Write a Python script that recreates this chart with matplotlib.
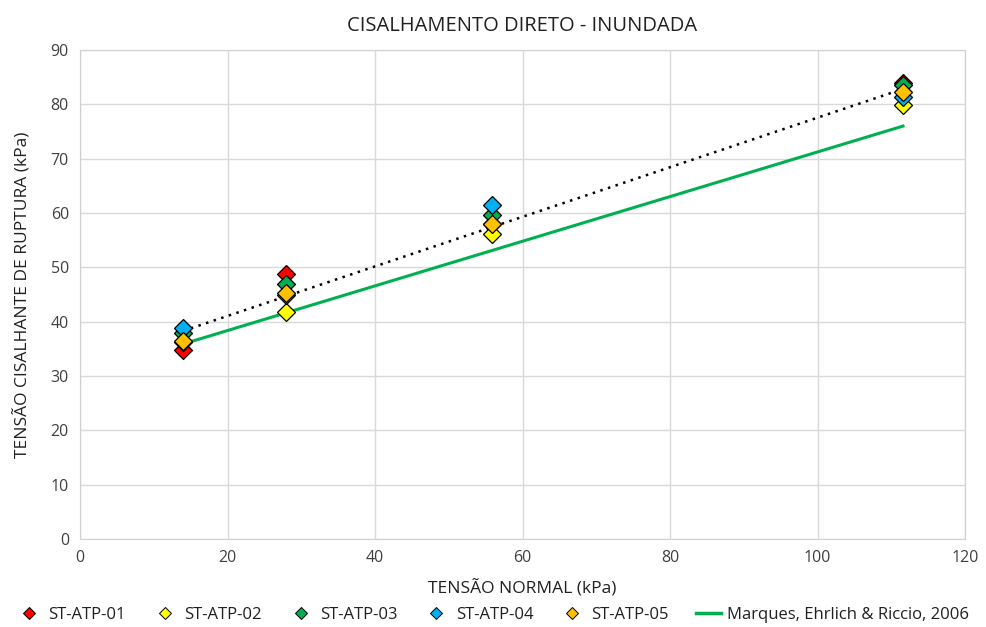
import numpy as np
import matplotlib.pyplot as plt

plt.rcParams['font.family'] = ['Open Sans', 'DejaVu Sans']

# tensão normal (kPa)
sigma = [14.0, 27.9, 55.8, 111.6]

# tensão cisalhante de ruptura (kPa) por amostra
atp01 = [34.7, 48.8, 58.0, 84.0]
atp02 = [36.3, 41.7, 56.1, 79.8]
atp03 = [37.9, 47.0, 59.6, 83.6]
atp04 = [38.8, 45.0, 61.5, 81.3]
atp05 = [36.5, 45.2, 57.9, 82.2]

series_names = ['ST-ATP-01', 'ST-ATP-02', 'ST-ATP-03', 'ST-ATP-04', 'ST-ATP-05']
series_colors = ['#ff0000', '#ffff00', '#00b050', '#00b0f0', '#ffc000']

# envoltória de referência
ref_x = [14.0, 111.6]
ref_y = [35.9, 76.0]
ref_name = 'Marques, Ehrlich & Riccio, 2006'

fig, ax = plt.subplots(figsize=(9.86, 6.27), dpi=100)
fig.subplots_adjust(left=80/986, right=965/986, top=1-50/627, bottom=1-539/627)

all_series = [atp01, atp02, atp03, atp04, atp05]

# linha de tendência (todos os pontos)
xs = np.array(sigma * len(all_series))
ys = np.concatenate([np.array(s) for s in all_series])
a, b = np.polyfit(xs, ys, 1)
tx = np.array([min(sigma), max(sigma)])
ax.plot(tx, a*tx + b, color='black', linestyle=(0, (1, 2.2)), linewidth=1.8, zorder=2)

ax.plot(ref_x, ref_y, color='#00b050', linewidth=2.2, label=ref_name, zorder=3)

for name, col, vals in zip(series_names, series_colors, all_series):
    ax.plot(sigma, vals, linestyle='none', marker='D', markersize=9,
            markerfacecolor=col, markeredgecolor='black', markeredgewidth=0.9,
            label=name, zorder=4)

ax.set_xlim(0, 120)
ax.set_ylim(0, 90)
ax.set_xticks(range(0, 121, 20))
ax.set_yticks(range(0, 91, 10))
ax.grid(True, color='#d9d9d9', linewidth=1)
ax.set_axisbelow(True)
for s in ax.spines.values():
    s.set_color('#d0d0d0')
ax.tick_params(length=0, labelsize=11.5, colors='#404040', pad=8)

ax.set_title('CISALHAMENTO DIRETO - INUNDADA', fontsize=14.5, color='#202020', pad=14)
ax.set_xlabel('TENSÃO NORMAL (kPa)', fontsize=12.5, color='#202020', labelpad=10)
ax.set_ylabel('TENSÃO CISALHANTE DE RUPTURA (kPa)', fontsize=12.5, color='#202020', labelpad=14)

leg_handles = []
for name, col in zip(series_names, series_colors):
    leg_handles.append(plt.Line2D([], [], linestyle='none', marker='D', markersize=6,
                                  markerfacecolor=col, markeredgecolor='black',
                                  markeredgewidth=0.7, label=name))
leg_handles.append(plt.Line2D([], [], color='#00b050', linewidth=2.5, label=ref_name))
fig.legend(handles=leg_handles, loc='lower center', ncol=6, frameon=False,
           fontsize=12, bbox_to_anchor=(0.5, -0.018), handlelength=1.5,
           handletextpad=0.4, columnspacing=1.6, labelcolor='#202020')

fig.savefig('out.png', dpi=100)
